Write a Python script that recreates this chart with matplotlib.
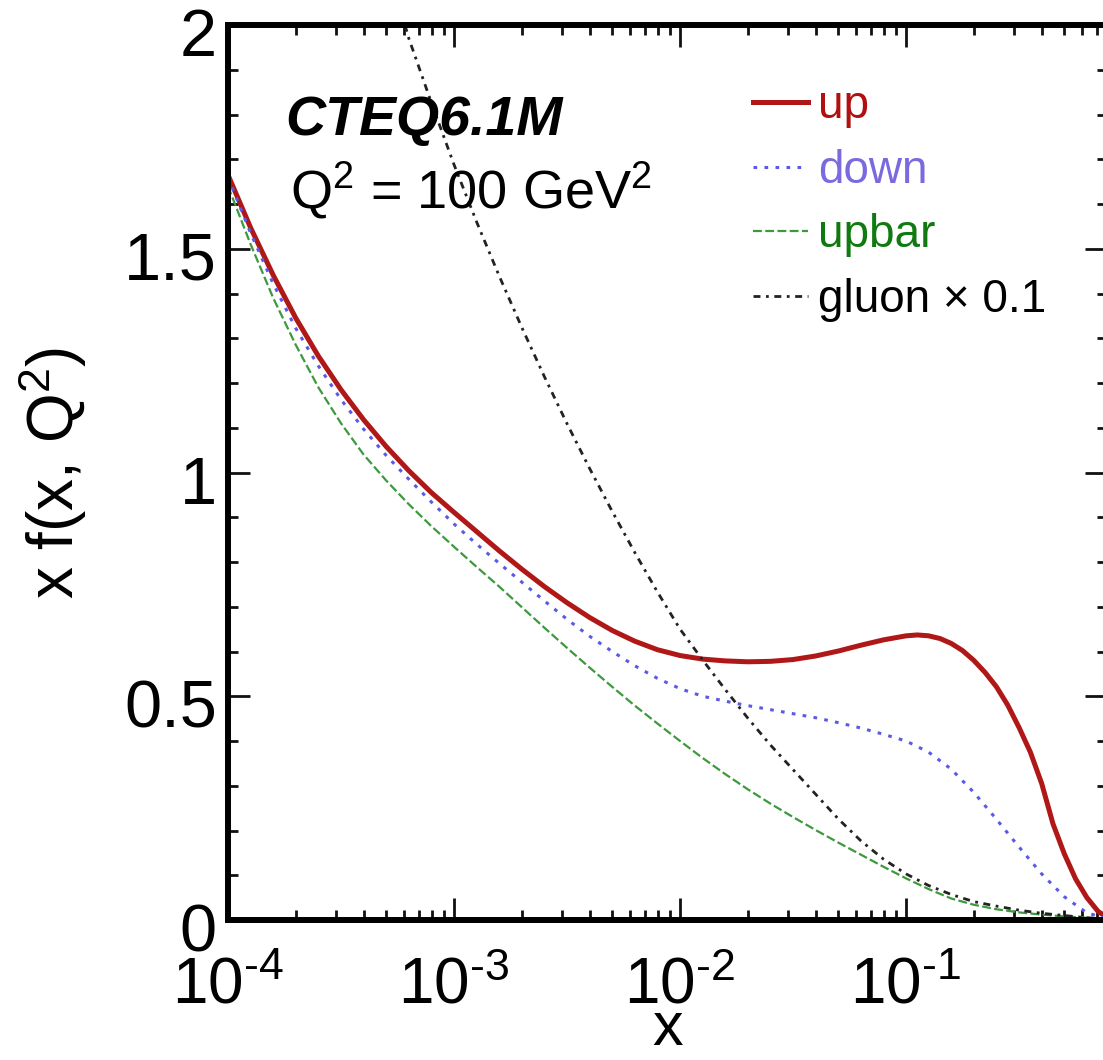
import numpy as np
import matplotlib
matplotlib.use('Agg')
from matplotlib import pyplot as plt
from matplotlib.ticker import LogLocator, MultipleLocator, FixedLocator, NullFormatter
from matplotlib.transforms import ScaledTranslation

plt.rcParams['font.family'] = ['Liberation Sans', 'DejaVu Sans']
plt.rcParams['mathtext.fontset'] = 'custom'
plt.rcParams['mathtext.rm'] = 'Liberation Sans'
plt.rcParams['mathtext.it'] = 'Liberation Sans:italic'
plt.rcParams['mathtext.bf'] = 'Liberation Sans:bold'

# values: log10(x) and x f(x, Q^2)
logx_up = [-4.0, -3.9, -3.8, -3.7, -3.6, -3.5, -3.4, -3.3, -3.2, -3.1,
           -3.0, -2.9, -2.8, -2.7, -2.6, -2.5, -2.4, -2.3, -2.2, -2.1,
           -2.0, -1.9, -1.8, -1.7, -1.6, -1.5, -1.4, -1.3, -1.2, -1.1,
           -1.0, -0.95, -0.9, -0.85, -0.8, -0.75, -0.7, -0.65, -0.6, -0.55,
           -0.5, -0.45, -0.4, -0.35, -0.3, -0.25, -0.2, -0.15, -0.111]
up = [1.665, 1.547, 1.441, 1.345, 1.260, 1.185, 1.118, 1.058, 1.004, 0.955,
      0.911, 0.868, 0.825, 0.784, 0.745, 0.709, 0.676, 0.647, 0.623, 0.604,
      0.591, 0.583, 0.579, 0.577, 0.578, 0.582, 0.590, 0.601, 0.614, 0.626,
      0.635, 0.637, 0.635, 0.629, 0.618, 0.602, 0.580, 0.553, 0.521, 0.480,
      0.430, 0.375, 0.305, 0.215, 0.148, 0.092, 0.050, 0.019, 0.006]

logx_down = [-4.0, -3.9, -3.8, -3.7, -3.6, -3.5, -3.4, -3.3, -3.2, -3.1,
             -3.0, -2.9, -2.8, -2.7, -2.6, -2.5, -2.4, -2.3, -2.2, -2.1,
             -2.0, -1.9, -1.8, -1.7, -1.6, -1.5, -1.4, -1.3, -1.2, -1.1,
             -1.0, -0.9, -0.8, -0.7, -0.6, -0.5, -0.4, -0.3, -0.2, -0.111]
down = [1.660, 1.535, 1.422, 1.322, 1.238, 1.163, 1.097, 1.038, 0.985, 0.934,
        0.885, 0.840, 0.797, 0.755, 0.713, 0.672, 0.634, 0.600, 0.568, 0.540,
        0.517, 0.500, 0.489, 0.479, 0.470, 0.461, 0.452, 0.441, 0.429, 0.415,
        0.400, 0.375, 0.337, 0.285, 0.225, 0.163, 0.103, 0.052, 0.016, 0.003]

logx_upbar = [-4.0, -3.9, -3.8, -3.7, -3.6, -3.5, -3.4, -3.3, -3.2, -3.1,
              -3.0, -2.9, -2.8, -2.7, -2.6, -2.5, -2.4, -2.3, -2.2, -2.1,
              -2.0, -1.9, -1.8, -1.7, -1.6, -1.5, -1.4, -1.3, -1.2, -1.1,
              -1.0, -0.9, -0.8, -0.7, -0.6, -0.5, -0.4, -0.3, -0.2, -0.111]
upbar = [1.640, 1.510, 1.390, 1.285, 1.190, 1.110, 1.040, 0.982, 0.929, 0.880,
         0.834, 0.789, 0.745, 0.699, 0.653, 0.608, 0.564, 0.521, 0.479, 0.439,
         0.400, 0.362, 0.326, 0.292, 0.260, 0.230, 0.201, 0.173, 0.146, 0.119,
         0.093, 0.069, 0.048, 0.034, 0.024, 0.017, 0.012, 0.008, 0.005, 0.003]

logx_gluon = [-3.217, -3.2, -3.1, -3.0, -2.9, -2.8, -2.7, -2.6, -2.5, -2.4,
              -2.3, -2.2, -2.1, -2.0, -1.9, -1.8, -1.7, -1.6, -1.5, -1.4,
              -1.3, -1.2, -1.1, -1.0, -0.9, -0.8, -0.7, -0.6, -0.5, -0.4,
              -0.3, -0.2, -0.111]
gluon_x01 = [2.000, 1.970, 1.826, 1.688, 1.560, 1.439, 1.324, 1.214, 1.109, 1.009,
             0.913, 0.821, 0.733, 0.650, 0.581, 0.515, 0.451, 0.391, 0.336, 0.281,
             0.226, 0.177, 0.136, 0.103, 0.077, 0.057, 0.041, 0.031, 0.022, 0.015,
             0.010, 0.005, 0.003]

xtick_vals = [1e-4, 1e-3, 1e-2, 1e-1]
xtick_labels = [u'$\\mathregular{10^{\u20104}}$', u'$\\mathregular{10^{\u20103}}$',
                u'$\\mathregular{10^{\u20102}}$', u'$\\mathregular{10^{\u20101}}$']
ytick_vals = [0, 0.5, 1, 1.5, 2]
ytick_labels = ['0', '0.5', '1', '1.5', '2']

fig = plt.figure(figsize=(11.03, 10.6), dpi=100)
ax = fig.add_axes([228/1103, 140/1060, 879/1103, 895/1060])

ax.plot(10**np.array(logx_up), up, color='#b01818', lw=3.6, label='up')
ax.plot(10**np.array(logx_down), down, color='#5a5ae6', lw=2.2, ls=(0, (1.2, 2.4)), label='down')
ax.plot(10**np.array(logx_upbar), upbar, color='#3c9a3c', lw=1.6, ls=(0, (4, 1.5)), label='upbar')
ax.plot(10**np.array(logx_gluon), gluon_x01, color='#222222', lw=2.0, ls=(0, (2.5, 2, 1, 2)),
        label=u'gluon \u00d7 0.1')

ax.set_xscale('log')
ax.set_xlim(1e-4, 10**-0.111)
ax.set_ylim(0, 2)

ax.xaxis.set_major_locator(FixedLocator(xtick_vals))
ax.set_xticklabels(xtick_labels)
ax.xaxis.set_minor_locator(LogLocator(base=10, subs=np.arange(2, 10)))
ax.xaxis.set_minor_formatter(NullFormatter())
ax.set_yticks(ytick_vals)
ax.set_yticklabels(ytick_labels)
ax.yaxis.set_minor_locator(MultipleLocator(0.1))

for s in ax.spines.values():
    s.set_linewidth(4.3)

ax.tick_params(which='both', direction='in', top=True, right=True, width=2.0, color='#111111')
ax.tick_params(which='major', length=16)
ax.tick_params(which='minor', length=7)
ax.tick_params(axis='x', which='major', labelsize=46, pad=26)
ax.tick_params(axis='y', which='major', labelsize=48, pad=8)

for lab in ax.get_yticklabels():
    lab.set_transform(lab.get_transform() + ScaledTranslation(0, -0.07, fig.dpi_scale_trans))

ax.set_xlabel('x', fontsize=44)
ax.xaxis.set_label_coords(0.5, -0.090)
ax.set_ylabel(r'x f(x, Q$\mathregular{^2}$)', fontsize=46)
ax.yaxis.set_label_coords(-0.158, 0.5)

fig.text(285/1103, 1 - 135/1060, 'CTEQ6.1M', fontsize=40, fontweight='bold',
         fontstyle='italic', va='baseline')
fig.text(290/1103, 1 - 208/1060, r'Q$\mathregular{^2}$ = 100 GeV$\mathregular{^2}$',
         fontsize=39, va='baseline')

leg = ax.legend(loc='upper left', bbox_to_anchor=(0.597, 0.934), frameon=False, fontsize=33,
                borderaxespad=0, borderpad=0, handlelength=1.2, handletextpad=0.22,
                labelspacing=0.45)
for t, c in zip(leg.get_texts(), ['#b01010', '#7a6ae0', '#107a10', '#000000']):
    t.set_color(c)

fig.savefig('out.png', dpi=100)
